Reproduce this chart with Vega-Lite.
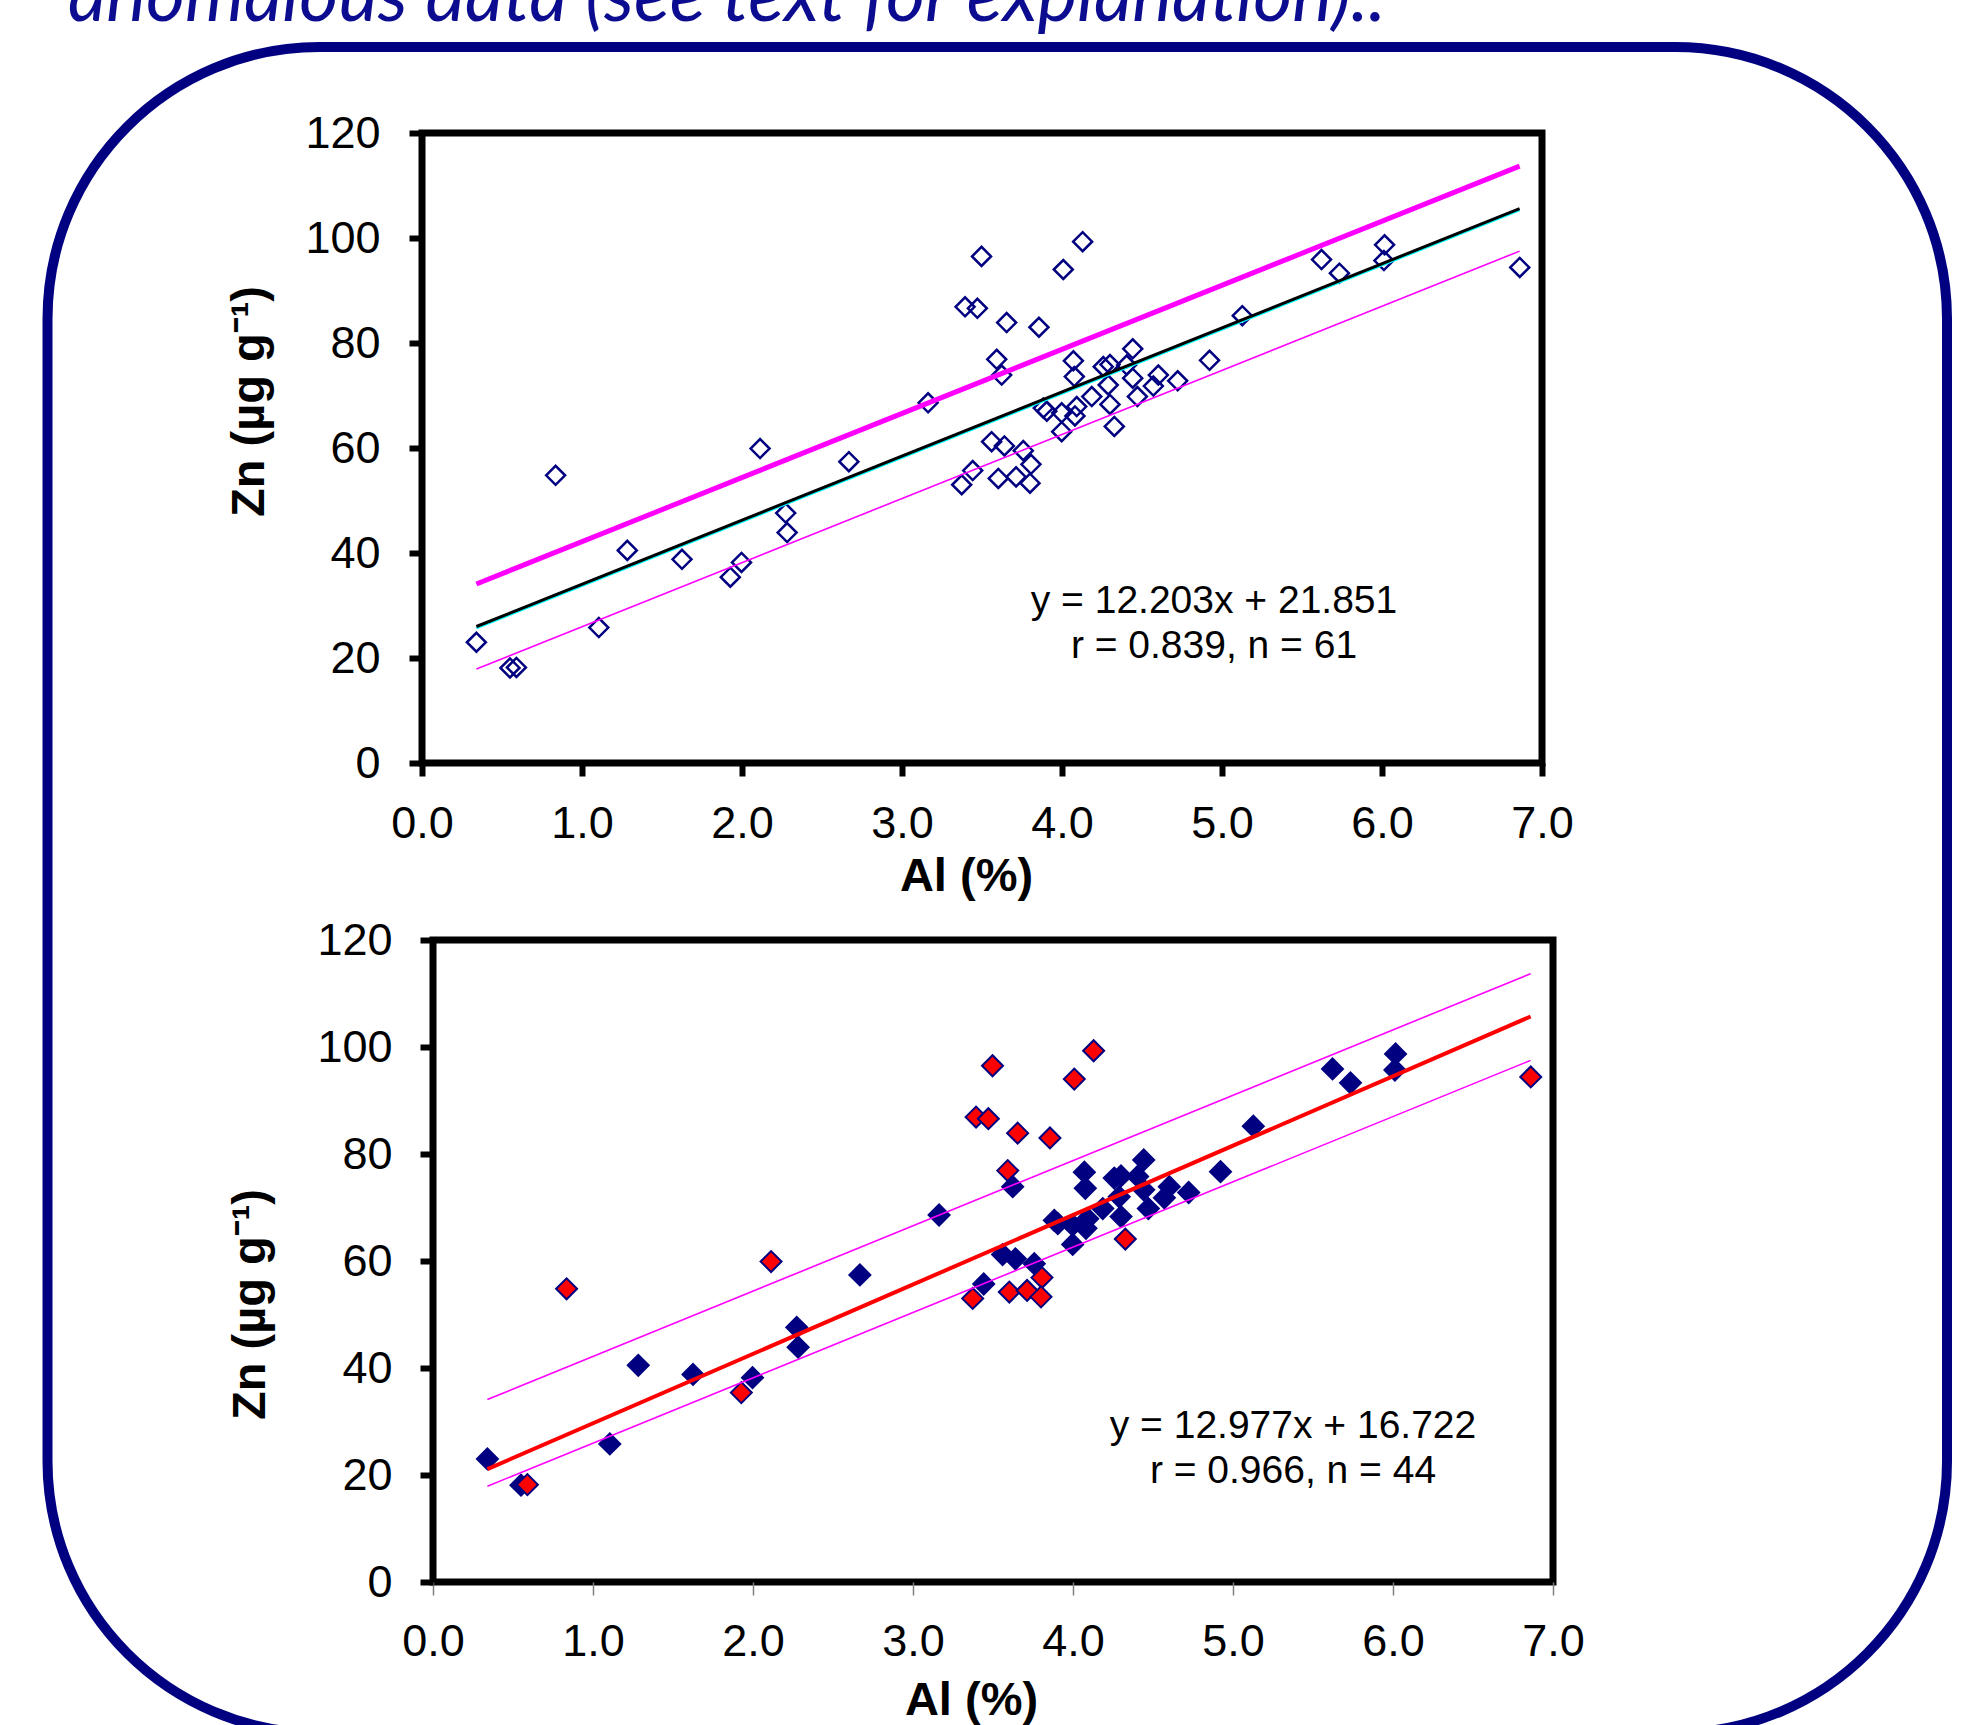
{
  "$schema": "https://vega.github.io/schema/vega-lite/v6.json",
  "usermeta": {"embedOptions": {"actions": false}},
  "autosize": {"type": "pad"},
  "padding": {"left": 39, "top": -43, "right": 11, "bottom": -12},
  "background": "white",
  "bounds": "flush",
  "spacing": 177,
  "config": {
    "font": "Liberation Sans",
    "view": {"stroke": "black", "strokeWidth": 7},
    "axis": {
      "grid": false, "domain": false,
      "labelFont": "Liberation Sans", "labelFontSize": 45, "labelColor": "black",
      "labelFlush": false, "labelOverlap": false, "labelBound": false,
      "titleFont": "Liberation Sans", "titleFontSize": 47, "titleFontWeight": "bold", "titleColor": "black",
      "tickColor": "black", "tickWidth": 6, "tickSize": 13
    }
  },
  "datasets": {
    "samples": [
      {"al": 0.34, "zn": 23.0, "flag": "normal"},
      {"al": 0.55, "zn": 18.1, "flag": "normal"},
      {"al": 0.59, "zn": 18.2, "flag": "anomalous"},
      {"al": 0.835, "zn": 54.8, "flag": "anomalous"},
      {"al": 1.105, "zn": 25.8, "flag": "normal"},
      {"al": 1.283, "zn": 40.5, "flag": "normal"},
      {"al": 1.625, "zn": 38.8, "flag": "normal"},
      {"al": 1.927, "zn": 35.4, "flag": "anomalous"},
      {"al": 1.997, "zn": 38.2, "flag": "normal"},
      {"al": 2.113, "zn": 59.9, "flag": "anomalous"},
      {"al": 2.273, "zn": 47.6, "flag": "normal"},
      {"al": 2.282, "zn": 43.9, "flag": "normal"},
      {"al": 2.668, "zn": 57.4, "flag": "normal"},
      {"al": 3.163, "zn": 68.6, "flag": "normal"},
      {"al": 3.373, "zn": 53.0, "flag": "anomalous"},
      {"al": 3.394, "zn": 86.9, "flag": "anomalous"},
      {"al": 3.442, "zn": 55.7, "flag": "normal"},
      {"al": 3.471, "zn": 86.6, "flag": "anomalous"},
      {"al": 3.497, "zn": 96.5, "flag": "anomalous"},
      {"al": 3.560, "zn": 61.2, "flag": "normal"},
      {"al": 3.592, "zn": 76.9, "flag": "anomalous"},
      {"al": 3.602, "zn": 54.2, "flag": "anomalous"},
      {"al": 3.623, "zn": 73.9, "flag": "normal"},
      {"al": 3.640, "zn": 60.4, "flag": "normal"},
      {"al": 3.654, "zn": 83.9, "flag": "anomalous"},
      {"al": 3.713, "zn": 54.5, "flag": "anomalous"},
      {"al": 3.758, "zn": 59.5, "flag": "normal"},
      {"al": 3.806, "zn": 56.9, "flag": "anomalous"},
      {"al": 3.800, "zn": 53.3, "flag": "anomalous"},
      {"al": 3.856, "zn": 83.0, "flag": "anomalous"},
      {"al": 3.883, "zn": 67.6, "flag": "normal"},
      {"al": 3.905, "zn": 67.0, "flag": "normal"},
      {"al": 3.998, "zn": 66.7, "flag": "normal"},
      {"al": 3.998, "zn": 63.1, "flag": "normal"},
      {"al": 4.008, "zn": 94.0, "flag": "anomalous"},
      {"al": 4.071, "zn": 76.6, "flag": "normal"},
      {"al": 4.077, "zn": 73.6, "flag": "normal"},
      {"al": 4.081, "zn": 66.1, "flag": "normal"},
      {"al": 4.092, "zn": 67.9, "flag": "normal"},
      {"al": 4.129, "zn": 99.3, "flag": "anomalous"},
      {"al": 4.186, "zn": 69.8, "flag": "normal"},
      {"al": 4.258, "zn": 75.5, "flag": "normal"},
      {"al": 4.300, "zn": 75.9, "flag": "normal"},
      {"al": 4.289, "zn": 72.0, "flag": "normal"},
      {"al": 4.300, "zn": 68.3, "flag": "normal"},
      {"al": 4.327, "zn": 64.1, "flag": "anomalous"},
      {"al": 4.404, "zn": 75.8, "flag": "normal"},
      {"al": 4.442, "zn": 78.9, "flag": "normal"},
      {"al": 4.442, "zn": 73.3, "flag": "normal"},
      {"al": 4.471, "zn": 69.8, "flag": "normal"},
      {"al": 4.571, "zn": 71.8, "flag": "normal"},
      {"al": 4.602, "zn": 73.9, "flag": "normal"},
      {"al": 4.723, "zn": 72.8, "flag": "normal"},
      {"al": 4.922, "zn": 76.7, "flag": "normal"},
      {"al": 5.127, "zn": 85.2, "flag": "normal"},
      {"al": 5.622, "zn": 95.9, "flag": "normal"},
      {"al": 5.734, "zn": 93.3, "flag": "normal"},
      {"al": 6.016, "zn": 98.7, "flag": "normal"},
      {"al": 6.012, "zn": 95.7, "flag": "normal"},
      {"al": 6.861, "zn": 94.4, "flag": "anomalous"}
    ],
    "fits": [
      {"line": "fit1", "al": 0.34, "zn": 26.0},
      {"line": "fit1", "al": 6.86, "zn": 105.6},
      {"line": "upper", "al": 0.34, "zn": 34.1},
      {"line": "upper", "al": 6.86, "zn": 113.7},
      {"line": "lower", "al": 0.34, "zn": 17.9},
      {"line": "lower", "al": 6.86, "zn": 97.5},
      {"line": "fit2", "al": 0.34, "zn": 21.1},
      {"line": "fit2", "al": 6.86, "zn": 105.7}
    ],
    "notes": [
      {"part": "header", "label": "anomalous data (see text for explanation).."},
      {"part": "frame", "label": ""},
      {"part": "top", "label": ["y = 12.203x + 21.851", "r = 0.839, n = 61"]},
      {"part": "bottom", "label": ["y = 12.977x + 16.722", "r = 0.966, n = 44"]}
    ]
  },
  "vconcat": [
    {
      "width": 1120,
      "height": 630,
      "layer": [
        {
          "data": {"name": "samples"},
          "mark": {"type": "point", "shape": "diamond", "filled": false, "stroke": "#000080", "strokeWidth": 2.5, "size": 360, "opacity": 1},
          "encoding": {
            "x": {"field": "al", "type": "quantitative", "scale": {"domain": [0, 7]},
              "axis": {"title": "Al (%)", "values": [0, 1, 2, 3, 4, 5, 6, 7], "format": ".1f", "labelPadding": 25, "titleX": 544, "titleY": 127, "titleBaseline": "alphabetic"}},
            "y": {"field": "zn", "type": "quantitative", "scale": {"domain": [0, 120]},
              "axis": {"title": "Zn (µg g⁻¹)", "values": [0, 20, 40, 60, 80, 100, 120], "format": "d", "labelPadding": 29, "titleX": -159, "titleY": 268, "titleBaseline": "alphabetic", "titleAngle": 270}}
          }
        },
        {
          "data": {"name": "notes"},
          "transform": [{"filter": "datum.part === 'frame'"}],
          "mark": {"type": "rect", "fill": "transparent", "stroke": "#000080", "strokeWidth": 10, "cornerRadius": 272, "clip": false},
          "encoding": {
            "x": {"datum": -2.3406, "type": "quantitative", "scale": {"domain": [0, 7]}},
            "x2": {"datum": 9.5313},
            "y": {"datum": 136.38, "type": "quantitative", "scale": {"domain": [0, 120]}},
            "y2": {"datum": -184.76}
          }
        },
        {
          "data": {"name": "notes"},
          "transform": [{"filter": "datum.part === 'header'"}],
          "mark": {"type": "text", "align": "left", "baseline": "alphabetic", "font": "Lato", "fontStyle": "italic", "fontSize": 75, "color": "#0c0c90"},
          "encoding": {
            "x": {"datum": -2.2125, "type": "quantitative", "scale": {"domain": [0, 7]}},
            "y": {"datum": 141.33, "type": "quantitative", "scale": {"domain": [0, 120]}},
            "text": {"field": "label"}
          }
        },
        {
          "data": {"name": "fits"},
          "transform": [{"filter": "datum.line === 'fit1'"}],
          "mark": {"type": "line", "color": "#00FFFF", "strokeWidth": 2.5, "yOffset": 1.5},
          "encoding": {
            "x": {"field": "al", "type": "quantitative", "scale": {"domain": [0, 7]}},
            "y": {"field": "zn", "type": "quantitative", "scale": {"domain": [0, 120]}}
          }
        },
        {
          "data": {"name": "fits"},
          "transform": [{"filter": "datum.line === 'fit1'"}],
          "mark": {"type": "line", "color": "#000000", "strokeWidth": 3},
          "encoding": {
            "x": {"field": "al", "type": "quantitative", "scale": {"domain": [0, 7]}},
            "y": {"field": "zn", "type": "quantitative", "scale": {"domain": [0, 120]}}
          }
        },
        {
          "data": {"name": "fits"},
          "transform": [{"filter": "datum.line === 'upper'"}],
          "mark": {"type": "line", "color": "#FF00FF", "strokeWidth": 5},
          "encoding": {
            "x": {"field": "al", "type": "quantitative", "scale": {"domain": [0, 7]}},
            "y": {"field": "zn", "type": "quantitative", "scale": {"domain": [0, 120]}}
          }
        },
        {
          "data": {"name": "fits"},
          "transform": [{"filter": "datum.line === 'lower'"}],
          "mark": {"type": "line", "color": "#FF00FF", "strokeWidth": 1.6},
          "encoding": {
            "x": {"field": "al", "type": "quantitative", "scale": {"domain": [0, 7]}},
            "y": {"field": "zn", "type": "quantitative", "scale": {"domain": [0, 120]}}
          }
        },
        {
          "data": {"name": "notes"},
          "transform": [{"filter": "datum.part === 'top'"}],
          "mark": {"type": "text", "align": "center", "baseline": "alphabetic", "font": "Liberation Sans", "fontSize": 39, "lineHeight": 45, "color": "black"},
          "encoding": {
            "x": {"datum": 4.95, "type": "quantitative", "scale": {"domain": [0, 7]}},
            "y": {"datum": 28.57, "type": "quantitative", "scale": {"domain": [0, 120]}},
            "text": {"field": "label"}
          }
        }
      ]
    },
    {
      "bounds": "flush",
      "spacing": 10,
      "hconcat": [
        {
          "width": 1,
          "height": 1,
          "view": {"stroke": null},
          "data": {"values": []},
          "mark": "point"
        },
        {
          "width": 1120,
          "height": 642,
          "layer": [
            {
              "data": {"name": "samples"},
              "mark": {"type": "point", "shape": "diamond", "filled": true, "stroke": "#000080", "strokeWidth": 2, "size": 440, "opacity": 1},
              "encoding": {
                "x": {"field": "al", "type": "quantitative", "scale": {"domain": [0, 7]},
                  "axis": {"title": "Al (%)", "values": [0, 1, 2, 3, 4, 5, 6, 7], "format": ".1f", "labelPadding": 24, "tickColor": "#808080", "tickWidth": 1.5, "titleX": 538, "titleY": 132, "titleBaseline": "alphabetic"}},
                "y": {"field": "zn", "type": "quantitative", "scale": {"domain": [0, 120]},
                  "axis": {"title": "Zn (µg g⁻¹)", "values": [0, 20, 40, 60, 80, 100, 120], "format": "d", "labelPadding": 28, "titleX": -169, "titleY": 364, "titleBaseline": "alphabetic", "titleAngle": 270}},
                "fill": {"field": "flag", "type": "nominal", "scale": {"domain": ["normal", "anomalous"], "range": ["#000080", "#FF0000"]}, "legend": null}
              }
            },
            {
              "data": {"name": "fits"},
              "transform": [{"filter": "datum.line === 'upper' || datum.line === 'lower'"}],
              "mark": {"type": "line", "color": "#FF00FF", "strokeWidth": 1.6},
              "encoding": {
                "x": {"field": "al", "type": "quantitative", "scale": {"domain": [0, 7]}},
                "y": {"field": "zn", "type": "quantitative", "scale": {"domain": [0, 120]}},
                "detail": {"field": "line", "type": "nominal"}
              }
            },
            {
              "data": {"name": "fits"},
              "transform": [{"filter": "datum.line === 'fit2'"}],
              "mark": {"type": "line", "color": "#FF0000", "strokeWidth": 4},
              "encoding": {
                "x": {"field": "al", "type": "quantitative", "scale": {"domain": [0, 7]}},
                "y": {"field": "zn", "type": "quantitative", "scale": {"domain": [0, 120]}}
              }
            },
            {
              "data": {"name": "notes"},
              "transform": [{"filter": "datum.part === 'bottom'"}],
              "mark": {"type": "text", "align": "center", "baseline": "alphabetic", "font": "Liberation Sans", "fontSize": 39, "lineHeight": 45, "color": "black"},
              "encoding": {
                "x": {"datum": 5.375, "type": "quantitative", "scale": {"domain": [0, 7]}},
                "y": {"datum": 26.96, "type": "quantitative", "scale": {"domain": [0, 120]}},
                "text": {"field": "label"}
              }
            }
          ]
        }
      ]
    }
  ]
}
